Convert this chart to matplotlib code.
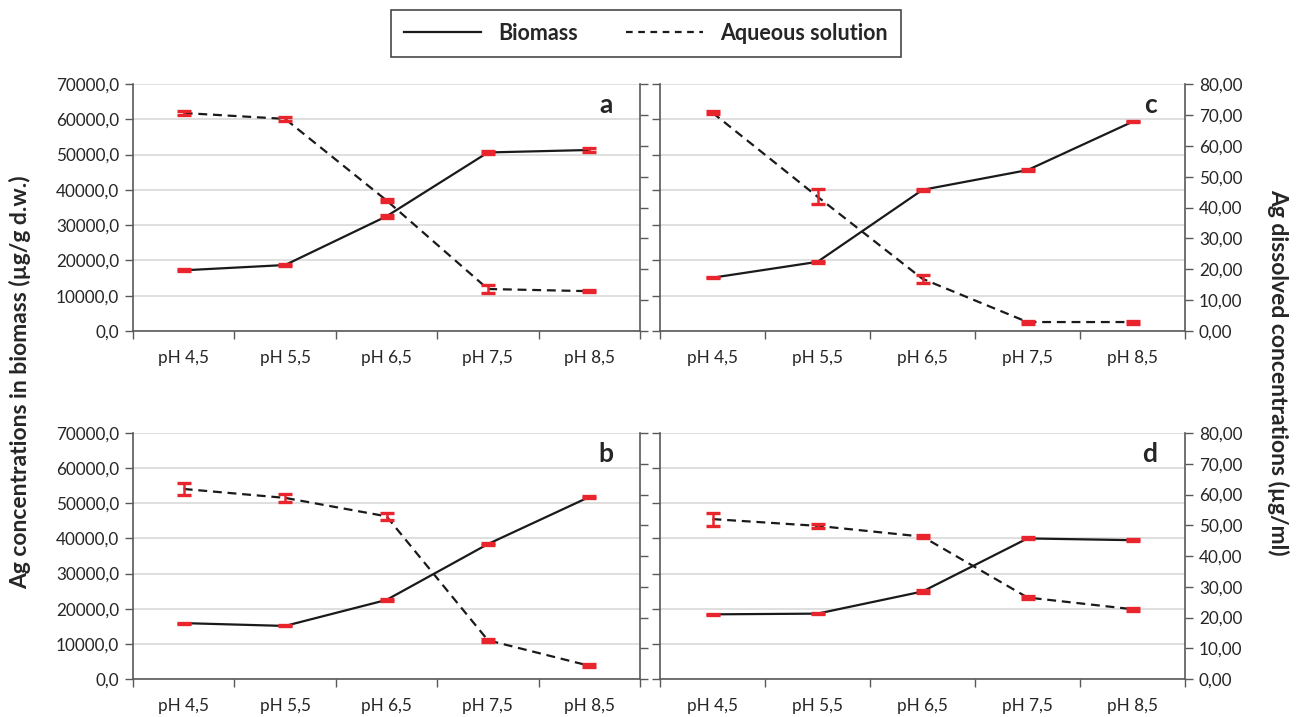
import matplotlib
matplotlib.use("Agg")
import matplotlib.pyplot as plt
from matplotlib.lines import Line2D
from matplotlib.ticker import FuncFormatter, MultipleLocator, FixedLocator

# ---------------- data ----------------
categories = ["pH 4,5", "pH 5,5", "pH 6,5", "pH 7,5", "pH 8,5"]

biomass_a = [17200, 18700, 32500, 50600, 51300]
biomass_a_err = [300, 300, 400, 500, 600]
aqueous_a = [70.6, 68.7, 42.3, 13.6, 12.9]
aqueous_a_err = [0.5, 0.7, 0.6, 1.3, 0.3]

biomass_b = [15900, 15100, 22500, 38400, 51800]
biomass_b_err = [150, 150, 200, 200, 200]
aqueous_b = [61.8, 58.9, 52.9, 12.6, 4.3]
aqueous_b_err = [2.0, 1.4, 1.1, 0.5, 0.5]

biomass_c = [15100, 19600, 40000, 45600, 59300]
biomass_c_err = [150, 200, 200, 200, 200]
aqueous_c = [70.7, 43.5, 16.9, 2.9, 2.9]
aqueous_c_err = [0.5, 2.4, 1.2, 0.5, 0.5]

biomass_d = [18400, 18600, 24900, 40000, 39500]
biomass_d_err = [200, 200, 300, 300, 200]
aqueous_d = [52.0, 49.8, 46.3, 26.5, 22.7]
aqueous_d_err = [2.1, 0.6, 0.6, 0.6, 0.5]

panel_letters = ["a", "b", "c", "d"]
left_title = "Ag concentrations in biomass (µg/g d.w.)"
right_title = "Ag dissolved concentrations (µg/ml)"
legend_labels = ["Biomass", "Aqueous solution"]

# ---------------- style ----------------
plt.rcParams["font.family"] = ["Lato", "DejaVu Sans"]
W, H = 1299, 717
fig = plt.figure(figsize=(W / 100, H / 100), dpi=100)

TXT = "#262626"
SPINE = "#595959"
GRID = "#d9d9d9"
RED = "#e8242c"
TICK_FS = 12.3

def rect(l, r, t, b):
    return [l / W, 1 - b / H, (r - l) / W, (b - t) / H]

panels = [
    (rect(133, 640, 84, 331), biomass_a, biomass_a_err, aqueous_a, aqueous_a_err, "a", True),
    (rect(133, 640, 433, 679), biomass_b, biomass_b_err, aqueous_b, aqueous_b_err, "b", True),
    (rect(660, 1185, 84, 331), biomass_c, biomass_c_err, aqueous_c, aqueous_c_err, "c", False),
    (rect(660, 1185, 433, 679), biomass_d, biomass_d_err, aqueous_d, aqueous_d_err, "d", False),
]

x = list(range(len(categories)))
dash = (0, (4, 2.6))

for r, bio, bio_err, aq, aq_err, letter, is_left in panels:
    ax = fig.add_axes(r)
    ax2 = ax.twinx()
    ax.set_zorder(1)
    ax2.set_zorder(2)
    ax2.patch.set_visible(False)

    ax.set_xlim(-0.5, len(categories) - 0.5)
    ax.set_ylim(0, 70000)
    ax2.set_ylim(0, 80)

    ax.yaxis.set_major_locator(MultipleLocator(10000))
    ax2.yaxis.set_major_locator(MultipleLocator(10))
    ax.grid(axis="y", color=GRID, lw=1.2, zorder=0)
    ax.set_axisbelow(True)

    # x ticks: marks at category boundaries, labels at centres
    ax.xaxis.set_major_locator(FixedLocator([i - 0.5 for i in range(len(categories) + 1)]))
    ax.xaxis.set_major_formatter(FuncFormatter(lambda v, p: ""))
    ax.set_xticks(x, minor=True)
    ax.set_xticklabels(categories, minor=True)
    ax.tick_params(axis="x", which="major", length=6, width=1, color=SPINE, direction="out")
    ax.tick_params(axis="x", which="minor", length=0, pad=14, labelsize=TICK_FS, labelcolor=TXT)

    ax.yaxis.set_major_formatter(FuncFormatter(lambda v, p: f"{v:.1f}".replace(".", ",")))
    ax2.yaxis.set_major_formatter(FuncFormatter(lambda v, p: f"{v:.2f}".replace(".", ",")))
    ax.tick_params(axis="y", length=6, width=1, color=SPINE, labelsize=TICK_FS, labelcolor=TXT, pad=4,
                   labelleft=is_left)
    ax2.tick_params(axis="y", length=6, width=1, color=SPINE, labelsize=TICK_FS, labelcolor=TXT, pad=4,
                    labelright=not is_left)

    for a in (ax, ax2):
        a.spines["top"].set_visible(False)
        for s in a.spines.values():
            s.set_color(SPINE)
            s.set_linewidth(1.2)
    ax.spines["right"].set_visible(False)
    ax2.spines["left"].set_visible(False)
    ax2.spines["bottom"].set_visible(False)

    ax.plot(x, bio, color="#1a1a1a", lw=1.6, zorder=3)
    ax.errorbar(x, bio, yerr=bio_err, fmt="none", ecolor=RED, elinewidth=1.8,
                capsize=4.8, capthick=2.4, zorder=4)
    ax2.plot(x, aq, color="#1a1a1a", lw=1.6, ls=dash, zorder=3)
    ax2.errorbar(x, aq, yerr=aq_err, fmt="none", ecolor=RED, elinewidth=1.8,
                 capsize=4.8, capthick=2.4, zorder=4)

    ax2.text(0.947, 0.965, letter, transform=ax2.transAxes, ha="right", va="top",
             fontsize=19, fontweight="bold", color=TXT)

fig.text(20 / W, 1 - 382 / H, left_title, rotation=90, ha="center", va="center",
         fontsize=16.5, fontweight="bold", color=TXT)
fig.text(1278 / W, 1 - 372 / H, right_title, rotation=270, ha="center", va="center",
         fontsize=16.5, fontweight="bold", color=TXT)

handles = [Line2D([], [], color="#1a1a1a", lw=1.6),
           Line2D([], [], color="#1a1a1a", lw=1.6, ls=(0, (3, 2.5)))]
leg = fig.legend(handles, legend_labels, loc="center", bbox_to_anchor=(646 / W, 1 - 33.5 / H),
                 ncol=2, frameon=True, fancybox=False, handlelength=3.6, columnspacing=2.2,
                 prop={"weight": "bold", "size": 15.5}, borderpad=0.6, handletextpad=0.8)
leg.get_frame().set_edgecolor("#1a1a1a")
leg.get_frame().set_linewidth(1.2)
for t in leg.get_texts():
    t.set_color(TXT)

fig.savefig("out.png", dpi=100, facecolor="white")
